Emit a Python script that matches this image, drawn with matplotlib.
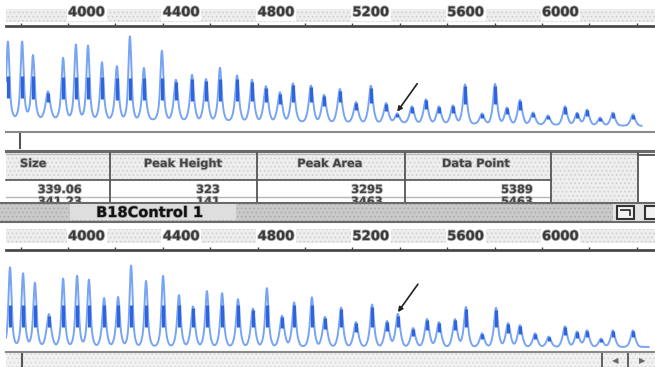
import numpy as np
import matplotlib.pyplot as plt
from matplotlib.patches import Rectangle
import matplotlib.patheffects as pe

W, H = 655, 367

# scan window shown in both lanes (data points)
x_range = (3738, 6477)
ruler_major = list(range(3600, 6801, 400))
ruler_minor = list(range(3800, 6801, 400))
ruler_labels = ["3600", "4000", "4400", "4800", "5200", "5600", "6000", "", ""]

# lane 1 peaks: data point and height above baseline (RFU)
top_peak_pos = [3746, 3806, 3852, 3915, 3979, 4033, 4084, 4143, 4206, 4261,
                4320, 4396, 4455, 4523, 4582, 4641, 4713, 4776, 4835, 4894,
                4949, 5025, 5080, 5147, 5215, 5278, 5342, 5389, 5451, 5510,
                5565, 5624, 5675, 5747, 5802, 5852, 5907, 5962, 6025, 6097,
                6148, 6190, 6245, 6299, 6384]
top_peak_height = [2660, 2670, 2200, 940, 2120, 2590, 2560, 1980, 1850, 2900,
                   1800, 2410, 1400, 1580, 1440, 1840, 1580, 1440, 1220, 1010,
                   1330, 1260, 940, 1150, 700, 1280, 680, 323, 580, 830,
                   590, 630, 1370, 360, 1400, 580, 850, 420, 320, 650,
                   430, 540, 270, 450, 400]
top_drift = (288, 0)
top_end = 6420

# lane 2 (B18Control 1)
bottom_peak_pos = [3755, 3810, 3860, 3919, 3979, 4038, 4088, 4152, 4211, 4266,
                   4329, 4401, 4468, 4527, 4586, 4650, 4717, 4780, 4839, 4903,
                   4954, 5029, 5084, 5152, 5215, 5283, 5346, 5392, 5456, 5515,
                   5565, 5633, 5679, 5747, 5806, 5857, 5907, 5971, 6029, 6097,
                   6148, 6190, 6249, 6299, 6384]
bottom_peak_height = [2770, 2560, 2230, 1120, 2380, 2480, 2340, 1690, 1730, 2840,
                      2300, 2480, 1800, 1400, 1940, 1870, 1660, 1330, 2050, 1080,
                      1550, 1730, 1040, 1370, 860, 1480, 900, 1150, 650, 970,
                      860, 970, 1400, 470, 1370, 830, 760, 470, 360, 720,
                      540, 580, 290, 580, 580]
bottom_drift = (40, 0)
bottom_end = 6450

marked_top = 5389
marked_bottom = 5392

table_columns = ["Size", "Peak Height", "Peak Area", "Data Point"]
table_rows = [["339.06", "323", "3295", "5389"],
              ["341.23", "141", "3463", "5463"]]
sample_name = "B18Control 1"

LIGHT = "#78a4f4"
DARK = "#2f64da"
GREY_TXT = "#3a3a3a"


def px_axes(fig, x0, y0, x1, y1, **kw):
    return fig.add_axes([x0 / W, 1 - y1 / H, (x1 - x0) / W, (y1 - y0) / H], **kw)


def build_trace(pos, heights, drift, x_end):
    x = np.linspace(x_range[0], x_end, 4000)
    base = np.interp(x, [x_range[0], x_end], drift)
    y = base.copy()
    for c, h in zip(pos, heights):
        hb = min(0.7 * h, 800)
        y += hb * np.exp(-0.5 * ((x - c) / 11.5) ** 2)
        y += (h - hb) * np.exp(-0.5 * ((x - c) / 5.5) ** 2)
    return x, y


def draw_lane(ax, pos, heights, drift, x_end, ylim, marked):
    x, y = build_trace(pos, heights, drift, x_end)
    ax.plot(x, y, color=LIGHT, lw=1.4, solid_joinstyle="round")
    # darker core of each peak
    pos = np.asarray(pos, float)
    h = np.asarray(heights, float)
    base = np.interp(pos, [x_range[0], x_end], drift)
    hb = np.minimum(0.7 * h, 800)
    lo = base + 0.85 * hb
    hi = base + np.minimum(0.95 * h, hb + 650)
    ax.vlines(pos, lo, hi, color=DARK, lw=2.3)

    i = list(pos).index(marked)
    peak_y = base[i] + h[i]
    ax.annotate("", xy=(marked, peak_y + 60), xytext=(20, 28),
                textcoords="offset pixels",
                arrowprops=dict(arrowstyle="-|>", color="#222222", lw=1.2,
                                mutation_scale=7, shrinkA=0, shrinkB=0))

    ax.set_yticks([])
    ax.xaxis.tick_top()
    ax.set_xticks(ruler_major)
    ax.set_xticks(ruler_minor, minor=True)
    ax.set_xticklabels(ruler_labels)
    ax.set_xlim(*x_range)
    ax.set_ylim(*ylim)
    ax.tick_params(axis="x", which="both", direction="out", length=2.5, width=1,
                   color="#444444", top=True, bottom=False, labeltop=True,
                   labelbottom=False, pad=2.5)
    for lbl in ax.get_xticklabels():
        lbl.set_horizontalalignment("left")
        lbl.set_fontsize(9.5)
        lbl.set_fontweight("bold")
        lbl.set_color(GREY_TXT)
        lbl.set_bbox(dict(facecolor="white", edgecolor="none", pad=1))
        lbl.set_path_effects([pe.withStroke(linewidth=1.2, foreground="#b0b0b0")])
    for side in ("left", "right"):
        ax.spines[side].set_visible(False)
    ax.spines["top"].set_color("#4a4a4a")
    ax.spines["top"].set_linewidth(2)
    ax.spines["bottom"].set_color("#8a8a8a")
    ax.spines["bottom"].set_linewidth(1.5)


def dotted(ax, x, y, w, h, face="#ededed", dots="#cdcdcd", z=1):
    ax.add_patch(Rectangle((x, y), w, h, facecolor=face, edgecolor=dots,
                           hatch="....", lw=0, zorder=z))


plt.rcParams["hatch.linewidth"] = 0.6
fig = plt.figure(figsize=(W / 100, H / 100), dpi=100)
fig.patch.set_facecolor("white")

chrome = fig.add_axes([0, 0, 1, 1], zorder=0)
chrome.set_xlim(0, W)
chrome.set_ylim(H, 0)
chrome.axis("off")

# ruler bands behind the scale labels
dotted(chrome, 6, 9, 649, 13)
dotted(chrome, 6, 229, 649, 14)

# strip under lane 1
chrome.plot([20, 20], [133, 148], color="#555555", lw=1.5)
chrome.plot([6, 655], [151, 151], color="#6a6a6a", lw=2.2)
chrome.plot([6, 655], [153.5, 153.5], color="#bdbdbd", lw=1)

# peak table
dotted(chrome, 6, 153, 545, 27, face="#eeeeee")
dotted(chrome, 551, 153, 87, 50, face="#eeeeee")
chrome.plot([6, 551], [180, 180], color="#555555", lw=1.2)
chrome.plot([6, 551], [197, 197], color="#b5b5b5", lw=1)
for xv in (110, 257, 405, 551):
    chrome.plot([xv, xv], [153, 203], color="#555555", lw=1.3)
chrome.plot([638, 638], [153, 210], color="#555555", lw=1.3)
chrome.plot([638, 655], [155, 155], color="#555555", lw=1.3)

head_x = [(20, "left"), (183, "center"), (330, "center"), (476, "center")]
row_x = [82, 220, 383, 533]
txt_kw = dict(fontsize=8.2, fontweight="bold", color="#444444", va="center",
              path_effects=[pe.withStroke(linewidth=1.2, foreground="#bcbcbc")])
for (hx, ha), name in zip(head_x, table_columns):
    chrome.text(hx, 164, name, ha=ha, **txt_kw)
for r, row in enumerate(table_rows):
    for rx, val in zip(row_x, row):
        chrome.text(rx, 190 + 12 * r, val, ha="right", zorder=2, **txt_kw)

# sample title bar (covers the second table row)
dotted(chrome, 0, 203, 613, 18, face="#c9c9c9", dots="#a9a9a9", z=5)
chrome.add_patch(Rectangle((613, 203), 42, 18, facecolor="#e4e4e4",
                           edgecolor="none", zorder=5))
chrome.plot([0, 655], [203, 203], color="#6a6a6a", lw=1.5, zorder=6)
chrome.plot([0, 655], [221.5, 221.5], color="#6a6a6a", lw=1.5, zorder=6)
chrome.add_patch(Rectangle((70, 204), 166, 16, facecolor="#dedede",
                           edgecolor="none", zorder=6))
chrome.text(150, 212.5, sample_name, ha="center", va="center", fontsize=10.5,
            fontweight="bold", color="#111111", zorder=7,
            path_effects=[pe.withStroke(linewidth=1.0, foreground="#9a9a9a")])
chrome.add_patch(Rectangle((617, 206), 17, 13, facecolor="#f2f2f2",
                           edgecolor="#333333", lw=1.5, zorder=7))
chrome.plot([621, 630, 630], [209.5, 209.5, 215], color="#333333", lw=1.3, zorder=8)
chrome.add_patch(Rectangle((645, 206), 14, 13, facecolor="#f2f2f2",
                           edgecolor="#333333", lw=1.5, zorder=7))

# scroll bar under lane 2
dotted(chrome, 6, 353, 649, 14, face="#f1f1f1", dots="#d5d5d5")
chrome.plot([22, 22], [352, 367], color="#555555", lw=1.5)
for xv in (602, 628):
    chrome.plot([xv, xv], [353, 367], color="#555555", lw=1.3)
chrome.text(615, 361, "\u25C0", ha="center", va="center", fontsize=6, color="#666666")
chrome.text(642, 361, "\u25B6", ha="center", va="center", fontsize=6, color="#666666")

# the two lanes
ax_top = px_axes(fig, 6, 26, 655, 132, zorder=2)
draw_lane(ax_top, top_peak_pos, top_peak_height, top_drift, top_end,
          (-216, 3492), marked_top)

ax_bot = px_axes(fig, 6, 250, 655, 352, zorder=2)
draw_lane(ax_bot, bottom_peak_pos, bottom_peak_height, bottom_drift, bottom_end,
          (-180, 3420), marked_bottom)

fig.savefig("out.png", dpi=100, facecolor="white")
